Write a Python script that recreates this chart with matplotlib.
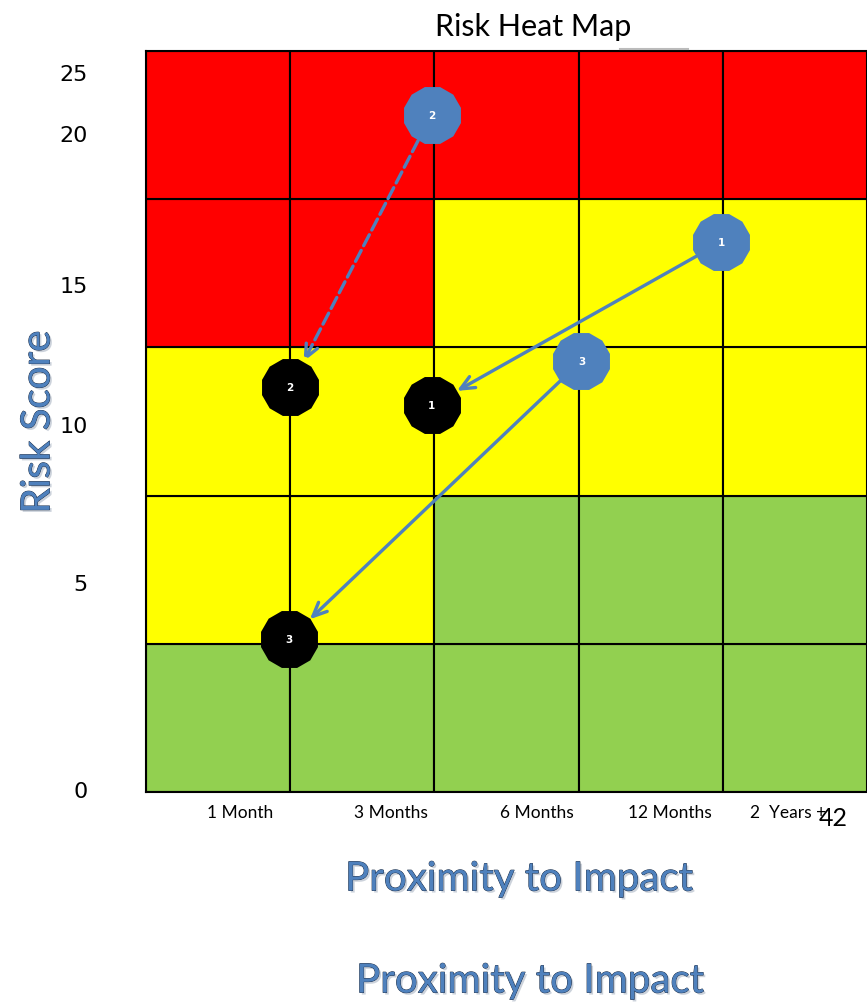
import numpy as np
import matplotlib.pyplot as plt
import matplotlib.patheffects as pe
from matplotlib.patches import Rectangle

# risk levels per cell, bottom row first: 0 = green, 1 = yellow, 2 = red
cell_levels = [
    [0, 0, 0, 0, 0],
    [1, 1, 0, 0, 0],
    [1, 1, 1, 1, 1],
    [2, 2, 1, 1, 1],
    [2, 2, 2, 2, 2],
]
level_colors = ['#92d050', '#ffff00', '#ff0000']

x_labels = ['1 Month', '3 Months', '6 Months', '12 Months', '2  Years +']
x_label_pos = [0.65, 1.70, 2.71, 3.63, 4.45]
y_labels = ['0', '5', '10', '15', '20', '25']
y_label_pos = [0.02, 1.42, 2.48, 3.43, 4.45, 4.86]

risk_ids = ['1', '2', '3']
# previous assessment (blue) and current assessment (black), in grid units
prev_x = [3.99, 1.98, 3.02]
prev_y = [3.71, 4.57, 2.91]
curr_x = [1.98, 1.00, 0.99]
curr_y = [2.61, 2.73, 1.03]
arrow_styles = ['solid', 'dashed', 'solid']

blue = '#4f81bd'

fig = plt.figure(figsize=(8.67, 10.03), dpi=100)
ax = fig.add_axes([146/867, 1 - 793/1003, 1 - 146/867, (793 - 52)/1003])
ax.set_xlim(0, 5)
ax.set_ylim(0, 5)

# coloured grid
for r, row in enumerate(cell_levels):
    for c, lvl in enumerate(row):
        ax.add_patch(Rectangle((c, r), 1, 1, facecolor=level_colors[lvl],
                               edgecolor='black', lw=1.5, zorder=1))

for s in ax.spines.values():
    s.set_linewidth(1.5)
ax.spines['right'].set_visible(False)

ax.set_xticks(x_label_pos)
ax.set_xticklabels(x_labels, fontsize=12.5, family='Lato')
ax.set_yticks(y_label_pos)
ax.set_yticklabels(y_labels, fontsize=16)
ax.tick_params(length=0)
ax.tick_params(axis='x', pad=9)
ax.tick_params(axis='y', pad=42)

# arrows from previous to current position
for i in range(len(risk_ids)):
    ax.annotate('', xy=(curr_x[i], curr_y[i]), xytext=(prev_x[i], prev_y[i]),
                arrowprops=dict(arrowstyle='->,head_length=1.0,head_width=0.45',
                                color=blue, lw=2.4, linestyle=arrow_styles[i],
                                shrinkA=21, shrinkB=21),
                zorder=3)

ax.scatter(prev_x, prev_y, s=1800, marker=(12, 0, 15), color=blue, zorder=4, lw=0)
ax.scatter(curr_x, curr_y, s=1800, marker=(12, 0, 15), color='black', zorder=4, lw=0)
for i, rid in enumerate(risk_ids):
    ax.text(prev_x[i], prev_y[i], rid, color='white', fontsize=7.5, fontweight='bold',
            ha='center', va='center', zorder=5)
    ax.text(curr_x[i], curr_y[i], rid, color='white', fontsize=7.5, fontweight='bold',
            ha='center', va='center', zorder=5)

fig.text(533/867, 1 - 27/1003, 'Risk Heat Map', fontsize=22, family='Lato',
         ha='center', va='center')
fig.add_artist(plt.Line2D([620/867, 688/867], [1 - 50/1003] * 2, color='#bbbbbb', lw=1.5))

glow = [pe.SimplePatchShadow(offset=(1.5, -1.5), shadow_rgbFace='#9aa7b8', alpha=0.5),
        pe.withStroke(linewidth=0.6, foreground='#17263d')]
fig.text(38/867, 1 - 423/1003, 'Risk Score', fontsize=29, family='Lato', color=blue,
         rotation=90, ha='center', va='center', path_effects=glow)
fig.text(519/867, 1 - 880/1003, 'Proximity to Impact', fontsize=29, family='Lato',
         color=blue, ha='center', va='center', path_effects=glow)
fig.text(530/867, 1 - 982/1003, 'Proximity to Impact', fontsize=29, family='Lato',
         color=blue, ha='center', va='center', path_effects=glow)
fig.text(833/867, 1 - 818/1003, '42', fontsize=18, family='Lato', ha='center', va='center')

fig.savefig('out.png', dpi=100)
